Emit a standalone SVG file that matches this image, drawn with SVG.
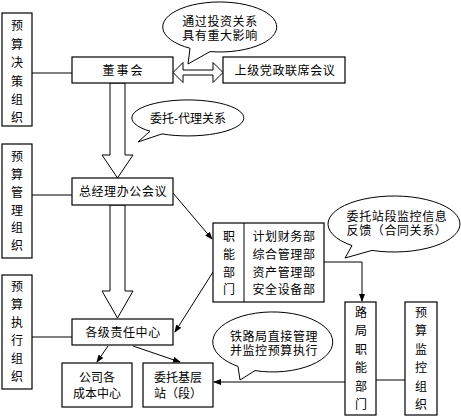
<svg xmlns="http://www.w3.org/2000/svg" width="461" height="416" viewBox="0 0 461 416">
<defs>
<style>
.box{fill:#fff;stroke:#000;stroke-width:1.2}
.ln{fill:none;stroke:#000;stroke-width:1}
.big{fill:#fff;stroke:#000;stroke-width:1}
.bub{fill:#fff;stroke:#000;stroke-width:1}
text{font-family:"Liberation Serif","Noto Sans CJK SC",serif;font-size:12px;fill:#000;text-anchor:middle}
.sp{letter-spacing:0.6px}
</style>
<marker id="ah" markerWidth="8" markerHeight="6" refX="7" refY="3" orient="auto" markerUnits="userSpaceOnUse">
<path d="M0,0 L8,3 L0,6 Z" fill="#000"/>
</marker>
</defs>
<rect width="461" height="416" fill="#fff"/>

<g id="connectors">
<line class="ln" x1="32" y1="73" x2="72" y2="73"/>
<line class="ln" x1="32" y1="195" x2="72" y2="195"/>
<line class="ln" x1="32" y1="337" x2="72" y2="337"/>
<polygon class="big" points="173,72.5 183,62.5 183,70 213,70 213,62.5 223,72.5 213,82.5 213,75 183,75 183,82.5"/>
<polygon class="big" points="110,83 110,155 102,155 117.5,178 133,155 125,155 125,83"/>
<polygon class="big" points="110,205 110,291 102,291 117.5,318 133,291 125,291 125,205"/>
<line class="ln" x1="173" y1="193" x2="212" y2="239" marker-end="url(#ah)"/>
<line class="ln" x1="213" y1="272" x2="175" y2="332" marker-end="url(#ah)"/>
<polyline class="ln" points="324,262 362,262 362,301" marker-end="url(#ah)"/>
<line class="ln" x1="345" y1="382" x2="214" y2="382" marker-end="url(#ah)"/>
<line class="ln" x1="376" y1="380" x2="405" y2="380"/>
<line class="ln" x1="108" y1="346" x2="97" y2="362" marker-end="url(#ah)"/>
<line class="ln" x1="133" y1="346" x2="180" y2="362" marker-end="url(#ah)"/>
</g>

<g id="org-decision">
<rect class="box" x="2" y="13" width="30" height="113"/>
<text x="17" y="30">预</text><text x="17" y="49">算</text><text x="17" y="67">决</text><text x="17" y="86">策</text><text x="17" y="104">组</text><text x="17" y="122">织</text>
</g>
<g id="org-manage">
<rect class="box" x="2" y="144" width="30" height="114"/>
<text x="17" y="161">预</text><text x="17" y="179">算</text><text x="17" y="197">管</text><text x="17" y="215">理</text><text x="17" y="232">组</text><text x="17" y="250">织</text>
</g>
<g id="org-exec">
<rect class="box" x="2" y="275" width="30" height="114"/>
<text x="17" y="291">预</text><text x="17" y="309">算</text><text x="17" y="327">执</text><text x="17" y="345">行</text><text x="17" y="363">组</text><text x="17" y="381">织</text>
</g>

<g id="board">
<rect class="box" x="72" y="57" width="101" height="26"/>
<text x="123.5" y="74.5" style="letter-spacing:2px">董事会</text>
</g>
<g id="party">
<rect class="box" x="223" y="57" width="122" height="26"/>
<text class="sp" x="285" y="74.5">上级党政联席会议</text>
</g>
<g id="gm">
<rect class="box" x="72" y="178" width="101" height="27"/>
<text class="sp" x="123" y="196">总经理办公会议</text>
</g>
<g id="resp">
<rect class="box" x="72" y="319" width="101" height="26"/>
<text class="sp" x="123" y="336.5">各级责任中心</text>
</g>
<g id="cost">
<rect class="box" x="62" y="363" width="70" height="44"/>
<text x="97" y="382">公司各</text>
<text x="97" y="398">成本中心</text>
</g>
<g id="station">
<rect class="box" x="143" y="363" width="70" height="44"/>
<text x="178" y="382">委托基层</text>
<text x="178" y="398">站（段）</text>
</g>
<g id="func">
<rect class="box" x="213" y="223" width="111" height="79"/>
<line class="ln" x1="244" y1="223" x2="244" y2="302"/>
<text x="229" y="241">职</text><text x="229" y="259">能</text><text x="229" y="277">部</text><text x="229" y="294">门</text>
<text class="sp" x="284" y="241">计划财务部</text>
<text class="sp" x="284" y="259">综合管理部</text>
<text class="sp" x="284" y="277">资产管理部</text>
<text class="sp" x="284" y="294">安全设备部</text>
</g>
<g id="bureau">
<rect class="box" x="345" y="302" width="31" height="113"/>
<text x="361" y="317">路</text><text x="361" y="335">局</text><text x="361" y="354">职</text><text x="361" y="372">能</text><text x="361" y="391">部</text><text x="361" y="409">门</text>
</g>
<g id="org-monitor">
<rect class="box" x="405" y="302" width="32" height="113"/>
<text x="421" y="317">预</text><text x="421" y="335">算</text><text x="421" y="354">监</text><text x="421" y="372">控</text><text x="421" y="391">组</text><text x="421" y="409">织</text>
</g>

<g id="bubble-invest">
<path class="bub" d="M210,51.6 A57,25 0 1 0 190,48.3 L188,64 Z"/>
<text class="sp" x="220" y="26">通过投资关系</text>
<text class="sp" x="220" y="40">具有重大影响</text>
</g>
<g id="bubble-agency">
<path class="bub" d="M162,133.9 A56,18 0 1 0 150,131.2 L138,142 Z"/>
<text x="188" y="123">委托-代理关系</text>
</g>
<g id="bubble-feedback">
<path class="bub" d="M372,250.4 A66,28 0 1 0 352,245.6 L345,258 Z"/>
<text class="sp" x="397" y="221">委托站段监控信息</text>
<text class="sp" x="397" y="235">反馈（合同关系）</text>
</g>
<g id="bubble-direct">
<path class="bub" d="M255,370.6 A60,30 0 1 0 238,366.4 L240,380 Z"/>
<text class="sp" x="274" y="341">铁路局直接管理</text>
<text class="sp" x="274" y="355">并监控预算执行</text>
</g>
</svg>
